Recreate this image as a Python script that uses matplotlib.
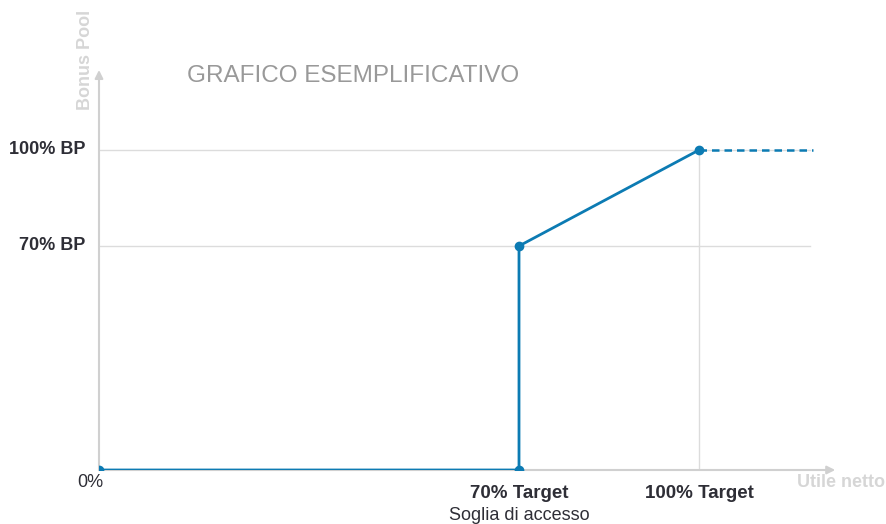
import matplotlib
matplotlib.use('Agg')
import matplotlib.pyplot as plt

# Data (percent of target vs percent of bonus pool)
curve_x = [0, 70, 70, 100]
curve_y = [0, 0, 70, 100]
cap_x = [100, 119]
cap_y = [100, 100]
grid_levels = [70, 100]
ytick_labels = ["70% BP", "100% BP"]
xtick_pos = [70, 100]
xtick_labels = ["70% Target", "100% Target"]

BLUE = '#0c7bb3'
GRID = '#dcdcdc'
AXIS = '#d0d0d0'
LABEL = '#d6d6d6'
DARK = '#2e2e36'

plt.rcParams['font.family'] = ['Liberation Sans', 'DejaVu Sans']

fig = plt.figure(figsize=(8.87, 5.24), dpi=100)
W, H = 887, 524
x0, y0 = 99, 470
px_x, px_y = 6.0, 3.2
right, top = 845, 60
ax = fig.add_axes([x0 / W, (H - y0) / H, (right - x0) / W, (y0 - top) / H])
ax.set_xlim(0, (right - x0) / px_x)
ax.set_ylim(0, (y0 - top) / px_y)
ax.axis('off')

# grid lines
for g in grid_levels:
    ax.plot([0, 118.5], [g, g], color=GRID, lw=1, zorder=1)
ax.plot([100, 100], [0, 100], color=GRID, lw=1, zorder=1)

# axes with arrows
ax.annotate('', xy=(122.7, 0), xytext=(0, 0),
            arrowprops=dict(arrowstyle='-|>', color=AXIS, lw=1.5,
                            mutation_scale=12, shrinkA=0, shrinkB=0),
            annotation_clip=False, zorder=2)
ax.annotate('', xy=(0, 125), xytext=(0, 0),
            arrowprops=dict(arrowstyle='-|>', color=AXIS, lw=1.5,
                            mutation_scale=12, shrinkA=0, shrinkB=0),
            annotation_clip=False, zorder=2)

# curve
ax.plot(curve_x, curve_y, color=BLUE, lw=2, marker='o', markersize=6, zorder=3)
ax.plot(cap_x, cap_y, color=BLUE, lw=1.8, ls=(0, (3, 2)), zorder=3)

# y labels
for g, lab in zip(grid_levels, ytick_labels):
    ax.text(-2.2, g, lab, ha='right', va='center', fontsize=13,
            fontweight='bold', color=DARK)
ax.text(0.8, -4, "0%", ha='right', va='center', fontsize=13, color=DARK)

# x labels
for xp, lab in zip(xtick_pos, xtick_labels):
    ax.text(xp, -7.5, lab, ha='center', va='center', fontsize=13.5,
            fontweight='bold', color=DARK)
ax.text(70, -14.3, "Soglia di accesso", ha='center', va='center',
        fontsize=13, color=DARK)

# axis titles
ax.text(131, -4, "Utile netto", ha='right', va='center', fontsize=13,
        fontweight='bold', color=LABEL, clip_on=False)
fig.text(85 / W, 1 - 60 / H, "Bonus Pool", rotation=90, ha='center',
         va='center', fontsize=13, fontweight='bold', color=LABEL)

fig.text(187 / W, 1 - 76 / H, "GRAFICO ESEMPLIFICATIVO", ha='left',
         va='center', fontsize=17.5, color='#999999')

fig.savefig('out.png', dpi=100)
